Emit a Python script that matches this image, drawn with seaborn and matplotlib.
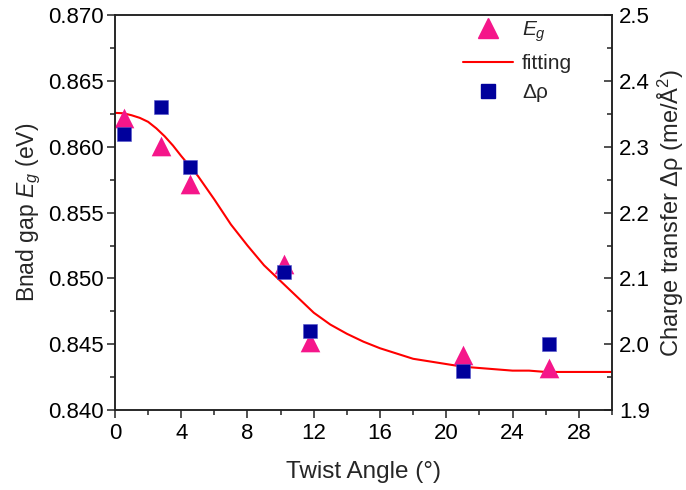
import matplotlib
matplotlib.use("Agg")
import matplotlib.pyplot as plt
import seaborn as sns
import numpy as np
import pandas as pd
from matplotlib.ticker import MultipleLocator, FormatStrFormatter
from matplotlib.lines import Line2D

# ---- data ----
twist_angle = [0.55, 2.8, 4.5, 10.2, 11.8, 21.0, 26.2]
band_gap = [0.8622, 0.8601, 0.8572, 0.8511, 0.8452, 0.8442, 0.8432]
charge_transfer = [2.32, 2.36, 2.27, 2.11, 2.02, 1.96, 2.00]

fit_x = [0, 0.5, 1, 1.5, 2, 2.5, 3, 3.5, 4, 5, 6, 7, 8, 9, 10, 11, 12, 13, 14,
         15, 16, 17, 18, 19, 20, 21, 22, 23, 24, 25, 26, 27, 28, 29, 30]
fit_y = [0.86258, 0.86255, 0.8624, 0.8622, 0.8619, 0.8614, 0.8608, 0.8601,
         0.8593, 0.8578, 0.8560, 0.8541, 0.8525, 0.8510, 0.8498, 0.8486, 0.8474,
         0.8465, 0.8458, 0.8452, 0.8447, 0.8443, 0.8439, 0.8437, 0.8435, 0.8433,
         0.8432, 0.8431, 0.8430, 0.8430, 0.8429, 0.8429, 0.8429, 0.8429, 0.8429]

x_ticks = [0, 4, 8, 12, 16, 20, 24, 28]

pink = "#F5168A"
navy = "#00009C"
red = "#FF0000"

sns.set_style("ticks")
plt.rcParams["font.family"] = ["Liberation Sans", "DejaVu Sans"]
plt.rcParams["mathtext.fontset"] = "custom"
plt.rcParams["mathtext.rm"] = "Liberation Sans"
plt.rcParams["mathtext.it"] = "Liberation Sans:italic"
plt.rcParams["axes.edgecolor"] = "#222222"
plt.rcParams["axes.linewidth"] = 1.1

tick_fs = 16
fig = plt.figure(figsize=(6.86, 4.90), dpi=100)
ax = fig.add_axes([0.1676, 0.163, 0.7244, 0.806])
ax2 = ax.twinx()

pts = pd.DataFrame({"angle": twist_angle, "eg": band_gap, "rho": charge_transfer})
fit = pd.DataFrame({"x": fit_x, "y": fit_y})

sns.lineplot(data=fit, x="x", y="y", ax=ax, color=red, linewidth=1.5, zorder=2)
sns.scatterplot(data=pts, x="angle", y="eg", ax=ax, marker="^", s=200,
                color=pink, edgecolor=pink, linewidth=0, zorder=3)
sns.scatterplot(data=pts, x="angle", y="rho", ax=ax2, marker="s", s=105,
                color=navy, edgecolor="#5555cc", linewidth=0.4, zorder=3)

ax.set_xlim(0, 30)
ax.set_ylim(0.840, 0.870)
ax2.set_ylim(1.9, 2.5)

ax.set_xticks(x_ticks)
ax.xaxis.set_minor_locator(MultipleLocator(2))
ax.yaxis.set_major_locator(MultipleLocator(0.005))
ax.yaxis.set_minor_locator(MultipleLocator(0.0025))
ax.yaxis.set_major_formatter(FormatStrFormatter("%.3f"))
ax2.yaxis.set_major_locator(MultipleLocator(0.1))
ax2.yaxis.set_minor_locator(MultipleLocator(0.05))
ax2.yaxis.set_major_formatter(FormatStrFormatter("%.1f"))

ax.tick_params(axis="both", which="major", direction="out", length=6, width=1.1,
               labelsize=tick_fs, colors="#222222", labelcolor="black", top=False, right=False)
ax.tick_params(axis="both", which="minor", direction="out", length=3.5, width=1.1,
               colors="#222222", top=False, right=False)
ax.tick_params(axis="y", which="both", pad=2)
ax2.tick_params(axis="y", which="major", direction="in", length=6, width=1.1,
                labelsize=tick_fs, colors="#222222", labelcolor="black", pad=5)
ax2.tick_params(axis="y", which="minor", direction="in", length=3.5, width=1.1,
                colors="#222222")

for a in (ax, ax2):
    for s in a.spines.values():
        s.set_visible(True)
        s.set_linewidth(1.1)

ax.set_xlabel("Twist Angle (°)", fontsize=17.5, labelpad=12)
ax.set_ylabel("Bnad gap $E_g$ (eV)", fontsize=16.5, labelpad=4)
ax2.set_ylabel("Charge transfer Δρ (me/Å$^2$)", fontsize=17, labelpad=4)

handles = [
    Line2D([], [], marker="^", linestyle="none", color=pink, markersize=14),
    Line2D([], [], color=red, linewidth=1.5),
    Line2D([], [], marker="s", linestyle="none", color=navy, markersize=10),
]
labels = ["$E_g$", "fitting", "Δρ"]
ax2.legend(handles, labels, loc="upper left", bbox_to_anchor=(0.70, 0.99),
           frameon=False, fontsize=15, handlelength=2.4, handletextpad=0.45,
           labelspacing=0.5, borderpad=0, borderaxespad=0)

fig.savefig("out.png", dpi=100)
